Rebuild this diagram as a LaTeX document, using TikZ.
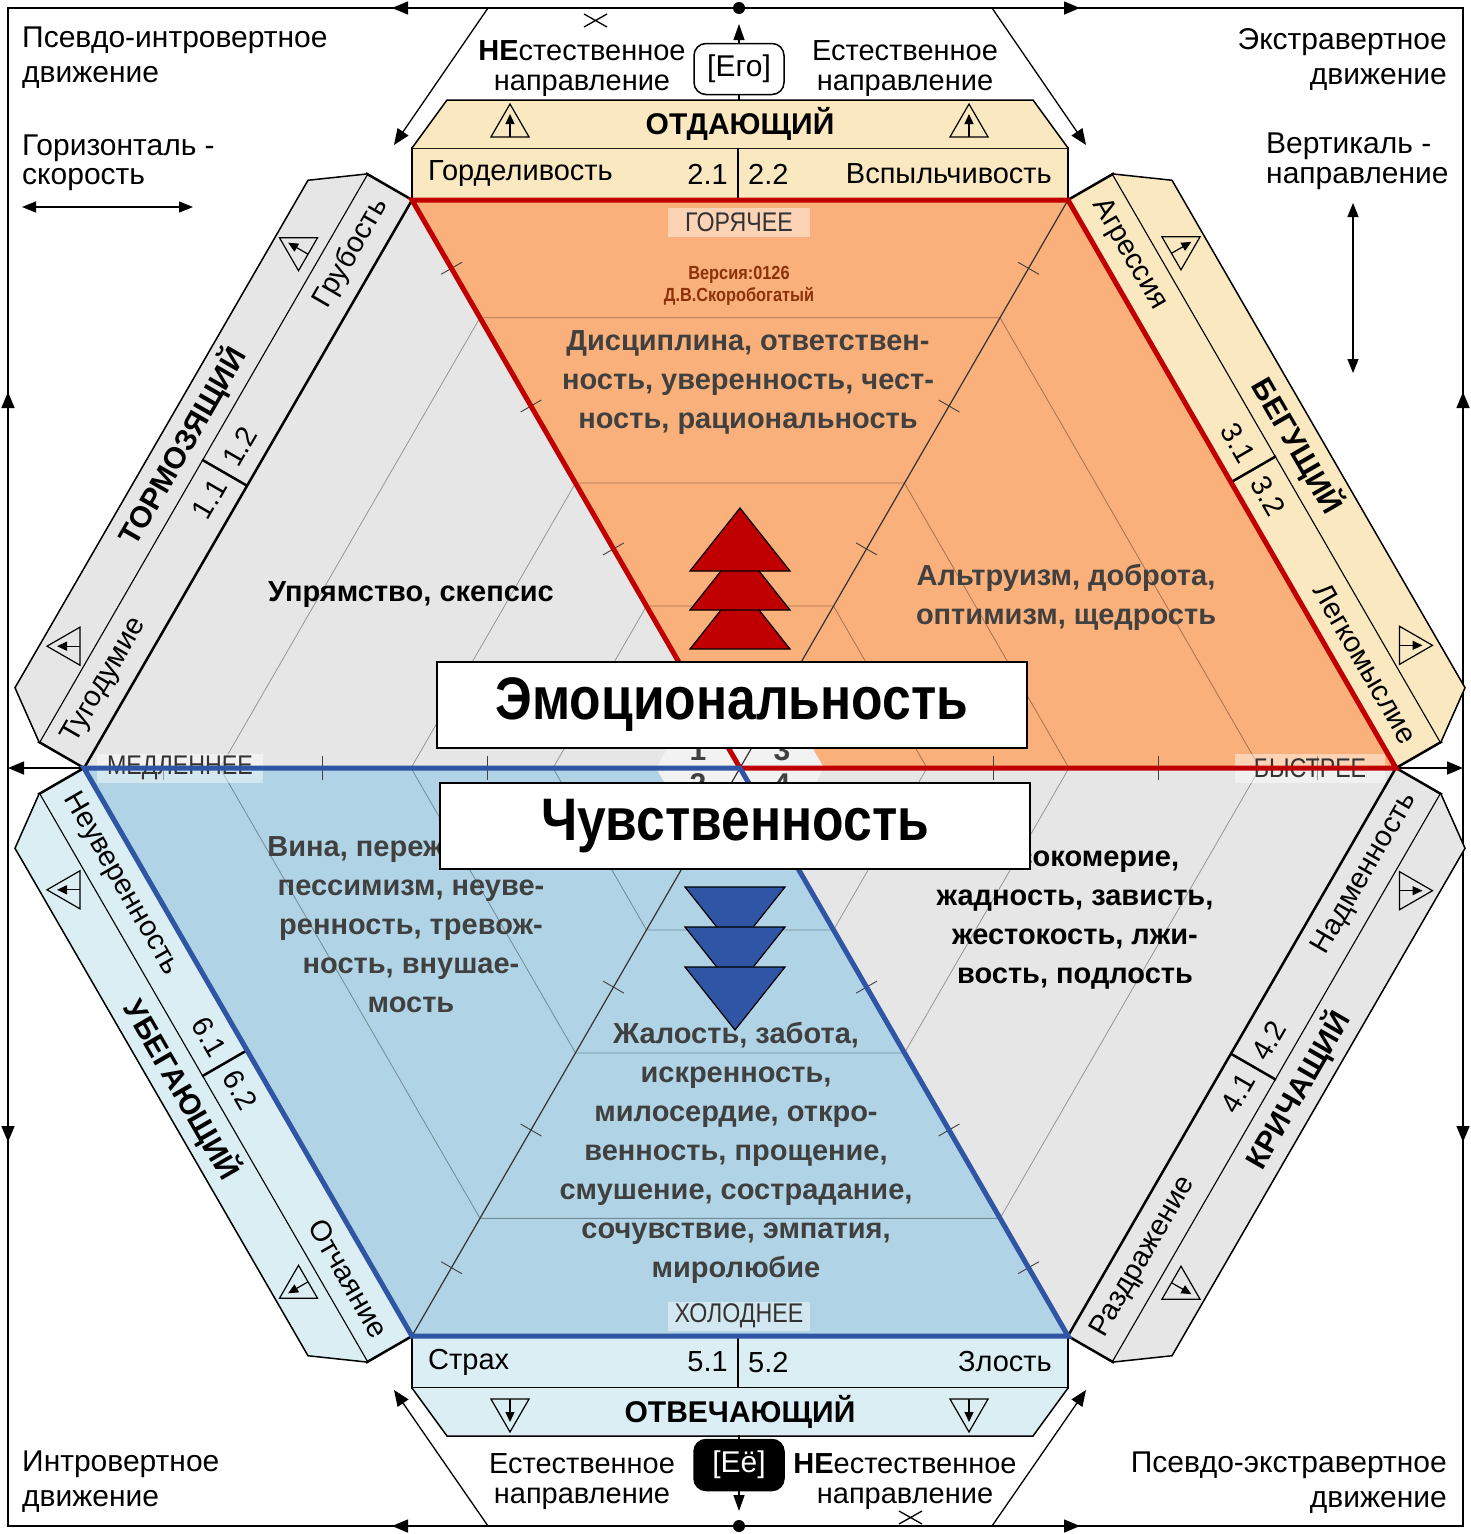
\documentclass[tikz,border=0pt]{standalone}
\usepackage{fontspec}
\setmainfont{Liberation Sans}
\newfontfamily\narrowsans[FakeStretch=0.86]{Liberation Sans}
\usetikzlibrary{arrows.meta}

\definecolor{hotfill}{RGB}{250,176,122}
\definecolor{coldfill}{RGB}{176,212,229}
\definecolor{neutfill}{RGB}{230,230,230}
\definecolor{wheatbar}{RGB}{250,232,192}
\definecolor{icebar}{RGB}{218,238,243}
\definecolor{greybar}{RGB}{230,230,230}
\definecolor{hotline}{RGB}{192,0,0}
\definecolor{coldline}{RGB}{47,85,164}
\definecolor{ink}{RGB}{64,64,64}
\definecolor{signbrown}{RGB}{140,50,10}

\tikzset{
  frameline/.style={line width=1.5pt},
  arrowline/.style={line width=1.3pt},
  bigtip/.style={-{Triangle[length=16pt,width=13pt]}},
  gridline/.style={line width=0.8pt, draw opacity=0.35},
  tickmark/.style={line width=0.9pt, black!75},
  barstrip/.style={line width=2.5pt},
  barcap/.style={line width=1.5pt},
  bardiv/.style={line width=2.5pt},
  bartitle/.style={inner sep=0pt, font=\bfseries\fontsize{30}{30}\selectfont},
  barlabel/.style={inner sep=0pt, font=\fontsize{29}{29}\selectfont},
  sidetext/.style={inner sep=0pt, font=\fontsize{30}{35}\selectfont},
  toptext/.style={inner sep=0pt, anchor=north, align=center, font=\fontsize{29}{30}\selectfont},
  regiontext/.style={inner sep=0pt, align=center, font=\bfseries\fontsize{29}{39}\selectfont},
  tempbox/.style={fill=white, fill opacity=0.45, text opacity=1, text=black!80, inner sep=0pt,
    minimum height=29pt, font=\narrowsans\fontsize{27}{27}\selectfont},
  bigbox/.style={draw, line width=2pt, fill=white, inner sep=0pt, minimum width=590pt,
    minimum height=86pt, font=\narrowsans\bfseries\fontsize{60}{60}\selectfont},
  egobox/.style={draw, line width=1.5pt, rounded corners=12pt, fill=white, inner sep=0pt,
    minimum width=90pt, minimum height=51pt, font=\fontsize{30}{30}\selectfont},
  dotmark/.style={circle, fill, inner sep=0pt, minimum size=12pt},
  diricon/.pic={
    \draw[line width=1.2pt] (0:22) -- (120:22) -- (240:22) -- cycle;
    \draw[line width=1.2pt, -{Triangle[length=10pt,width=9pt]}] (180:11) -- (0:12);
  }
}

% one side bar of the hexagon, drawn as the top bar and moved into place
\newcommand{\hexbar}[9]{%
  \begin{scope}[shift={(C)},#2]
    \draw[barstrip,fill=#3] (-328,-568) rectangle (328,-620);
    \draw[barcap,fill=#3] (-328,-620) -- (-293,-668) -- (293,-668) -- (328,-620);
    \draw[bardiv] (-2,-568) -- (-2,-620);
    \node[bartitle,rotate=#4] (#1-title) at (0,-644) {#5};
    \node[barlabel,rotate=#4,anchor=west] (#1-a) at (-312,-594) {#6};
    \node[barlabel,rotate=#4,anchor=east] (#1-na) at (-12,-594) {#7};
    \node[barlabel,rotate=#4,anchor=west] (#1-nb) at (8,-594) {#8};
    \node[barlabel,rotate=#4,anchor=east] (#1-b) at (312,-594) {#9};
    \coordinate (#1-ia) at (-230,-642);
    \coordinate (#1-ib) at (229,-642);
  \end{scope}}

\begin{document}
\begin{tikzpicture}[x=1pt,y=-1pt]
\useasboundingbox (0,0) rectangle (1471,1534);

% Hexagon corners
\coordinate (C) at (740,768);
\coordinate (TL) at (412,200);
\coordinate (TR) at (1068,200);
\coordinate (R) at (1396,768);
\coordinate (BR) at (1068,1336);
\coordinate (BL) at (412,1336);
\coordinate (L) at (84,768);

% Regions
\fill[neutfill] (L) -- (TL) -- (C) -- cycle;
\fill[neutfill] (C) -- (R) -- (BR) -- cycle;
\fill[hotfill] (TL) -- (TR) -- (R) -- (C) -- cycle;
\fill[coldfill] (L) -- (C) -- (BR) -- (BL) -- cycle;
\fill[black!5,shift={(C)}] (0:84) -- (60:84) -- (120:84) -- (180:84) -- (240:84) -- (300:84) -- cycle;

% Inner hexagons and ticks
\foreach \r in {187,329,520}
  \draw[gridline,shift={(C)}] (0:\r) -- (60:\r) -- (120:\r) -- (180:\r) -- (240:\r) -- (300:\r) -- cycle;
\foreach \a in {0,60,...,300}{
  \begin{scope}[shift={(C)},rotate=\a]
    \foreach \r in {253,418,577} \draw[tickmark] (\r,-12) -- (\r,12);
  \end{scope}}
\draw[line width=1.2pt,black!80] (TR) -- (C) -- (BL);

% Frame
\draw[frameline] (8,8) rectangle (1463,1526);
\node[dotmark] (topdot) at (739,8) {};
\node[dotmark] (botdot) at (739,1526) {};
\draw[frameline,bigtip] (topdot) -- (392,8);
\draw[frameline,bigtip] (topdot) -- (1080,8);
\draw[frameline,bigtip] (botdot) -- (392,1526);
\draw[frameline,bigtip] (botdot) -- (1080,1526);
\draw[frameline,bigtip] (8,768) -- (8,392);
\draw[frameline,bigtip] (8,768) -- (8,1142);
\draw[frameline,bigtip] (1463,768) -- (1463,392);
\draw[frameline,bigtip] (1463,768) -- (1463,1142);
\draw[frameline,{Triangle[length=16pt,width=13pt]}-{Triangle[length=16pt,width=13pt]}] (8,768) -- (1463,768);
\draw[arrowline,bigtip] (488,8) -- (394,145);
\draw[arrowline,bigtip] (992,8) -- (1086,145);
\draw[arrowline,bigtip] (488,1526) -- (394,1390);
\draw[arrowline,bigtip] (992,1526) -- (1086,1390);

% Side bars
\hexbar{give}{}{wheatbar}{0}{ОТДАЮЩИЙ}{Горделивость}{2.1}{2.2}{Вспыльчивость}
\hexbar{brake}{rotate=60}{greybar}{60}{ТОРМОЗЯЩИЙ}{Тугодумие}{1.1}{1.2}{Грубость}
\hexbar{run}{rotate=-60}{wheatbar}{-60}{БЕГУЩИЙ}{Агрессия}{3.1}{3.2}{Легкомыслие}
\hexbar{answer}{yscale=-1}{icebar}{0}{ОТВЕЧАЮЩИЙ}{Страх}{5.1}{5.2}{Злость}
\hexbar{flee}{yscale=-1,rotate=60}{icebar}{-60}{УБЕГАЮЩИЙ}{Неуверенность}{6.1}{6.2}{Отчаяние}
\hexbar{shout}{yscale=-1,rotate=-60}{greybar}{60}{КРИЧАЩИЙ}{Раздражение}{4.1}{4.2}{Надменность}

\pic[rotate=90] at (give-ia) {diricon};
\pic[rotate=90] at (give-ib) {diricon};
\pic[rotate=180] at (brake-ia) {diricon};
\pic[rotate=150] at (brake-ib) {diricon};
\pic[rotate=30] at (run-ia) {diricon};
\pic[rotate=0] at (run-ib) {diricon};
\pic[rotate=270] at (answer-ia) {diricon};
\pic[rotate=270] at (answer-ib) {diricon};
\pic[rotate=180] at (flee-ia) {diricon};
\pic[rotate=210] at (flee-ib) {diricon};
\pic[rotate=330] at (shout-ia) {diricon};
\pic[rotate=0] at (shout-ib) {diricon};

% Temperature and speed
\node[tempbox,minimum width=142pt] (hot) at (739,222) {ГОРЯЧЕЕ};
\node[tempbox,minimum width=142pt] (cold) at (739,1316) {ХОЛОДНЕЕ};
\node[tempbox,minimum width=166pt] (slow) at (180,768) {МЕДЛЕННЕЕ};
\node[tempbox,minimum width=150pt] (fast) at (1310,768) {БЫСТРЕЕ};

% Outlines
\draw[hotline,line width=5pt,line join=miter] (TL) -- (TR) -- (R) -- (C) -- cycle;
\draw[coldline,line width=5pt,line join=miter] (L) -- (C) -- (BR) -- (BL) -- cycle;

% Texts in the regions
\node[font=\narrowsans\bfseries\fontsize{19}{22}\selectfont,text=signbrown,align=center,inner sep=0pt] (version) at (739,286) {Версия:0126\\Д.В.Скоробогатый};
\node[regiontext,text=ink] (duty) at (748,383) {Дисциплина, ответствен-\\ность, уверенность, чест-\\ность, рациональность};
\node[regiontext] (stubborn) at (411,595) {Упрямство, скепсис};
\node[regiontext,text=ink] (kind) at (1066,597) {Альтруизм, доброта,\\оптимизм, щедрость};
\node[regiontext,text=ink] (guilt) at (411,925) {Вина, переживание,\\пессимизм, неуве-\\ренность, тревож-\\ность, внушае-\\мость};
\node[regiontext] (pride) at (1075,918) {Высокомерие,\\жадность, зависть,\\жестокость, лжи-\\вость, подлость};
\node[regiontext,text=ink] (pity) at (736,1153) {Жалость, забота,\\искренность,\\милосердие, откро-\\венность, прощение,\\смушение, сострадание,\\сочувствие, эмпатия,\\миролюбие};

\node[regiontext,text=ink,font=\bfseries\fontsize{30}{30}\selectfont] (n1) at (698,750) {1};
\node[regiontext,text=ink,font=\bfseries\fontsize{30}{30}\selectfont] (n3) at (782,750) {3};
\node[regiontext,text=ink,font=\bfseries\fontsize{30}{30}\selectfont] (n2) at (698,784) {2};
\node[regiontext,text=ink,font=\bfseries\fontsize{30}{30}\selectfont] (n4) at (782,784) {4};

% Arrow stacks
\foreach \k in {2,1,0}
  \draw[line width=1.2pt,fill=hotline] (740,{508+39*\k}) -- (790,{571+39*\k}) -- (690,{571+39*\k}) -- cycle;
\foreach \k in {0,1,2}
  \draw[line width=1.2pt,fill=coldline] (685,{887+40*\k}) -- (785,{887+40*\k}) -- (735,{950+40*\k}) -- cycle;

% Main labels
\node[bigbox] (emo) at (732,705) {Эмоциональность};
\node[bigbox] (sens) at (735,826) {Чувственность};

% Corner notes
\node[sidetext,anchor=north west,align=left] (pseudoin) at (22,27) {Псевдо-интровертное\\движение};
\node[sidetext,anchor=north west,align=left,font=\fontsize{30}{29}\selectfont] (horiz) at (22,135) {Горизонталь -\\скорость};
\node[sidetext,anchor=north east,align=right] (extra) at (1447,28) {Экстравертное\\движение};
\node[sidetext,anchor=north west,align=left,font=\fontsize{30}{30}\selectfont] (vert) at (1266,133) {Вертикаль -\\направление};
\node[sidetext,anchor=north west,align=left] (intro) at (22,1451) {Интровертное\\движение};
\node[sidetext,anchor=north east,align=right] (pseudoex) at (1447,1452) {Псевдо-экстравертное\\движение};
\coordinate (hl) at (22,207);
\coordinate (hr) at (193,207);
\coordinate (vt) at (1353,203);
\coordinate (vb) at (1353,373);
\draw[arrowline,{Triangle[length=14pt,width=11pt]}-{Triangle[length=14pt,width=11pt]}] (hl) -- (hr);
\draw[arrowline,{Triangle[length=14pt,width=11pt]}-{Triangle[length=14pt,width=11pt]}] (vt) -- (vb);

% Ego / Eyo
\node[toptext] (unnattop) at (582,40) {{\bfseries НЕ}стественное\\направление};
\node[toptext] (nattop) at (905,40) {Естественное\\направление};
\node[egobox] (ego) at (739,69) {[Его]};
\coordinate (egotip) at (739,24);
\coordinate (egofoot) at (739,100);
\draw[arrowline,-{Triangle[length=16pt,width=11pt]}] (ego.north) -- (egotip);
\draw[arrowline] (ego.south) -- (egofoot);
\draw[line width=1.3pt] (584,14) -- (607,27) (584,27) -- (607,14);

\node[toptext] (natbot) at (582,1453) {Естественное\\направление};
\node[toptext] (unnatbot) at (905,1453) {{\bfseries НЕ}естественное\\направление};
\node[egobox,fill=black,text=white] (eo) at (739,1465) {[Её]};
\coordinate (eotip) at (739,1511);
\coordinate (eohead) at (739,1435);
\draw[arrowline,-{Triangle[length=16pt,width=11pt]}] (eo.south) -- (eotip);
\draw[arrowline] (eohead) -- (eo.north);
\draw[line width=1.3pt] (899,1511) -- (922,1524) (899,1524) -- (922,1511);
\end{tikzpicture}
\end{document}
